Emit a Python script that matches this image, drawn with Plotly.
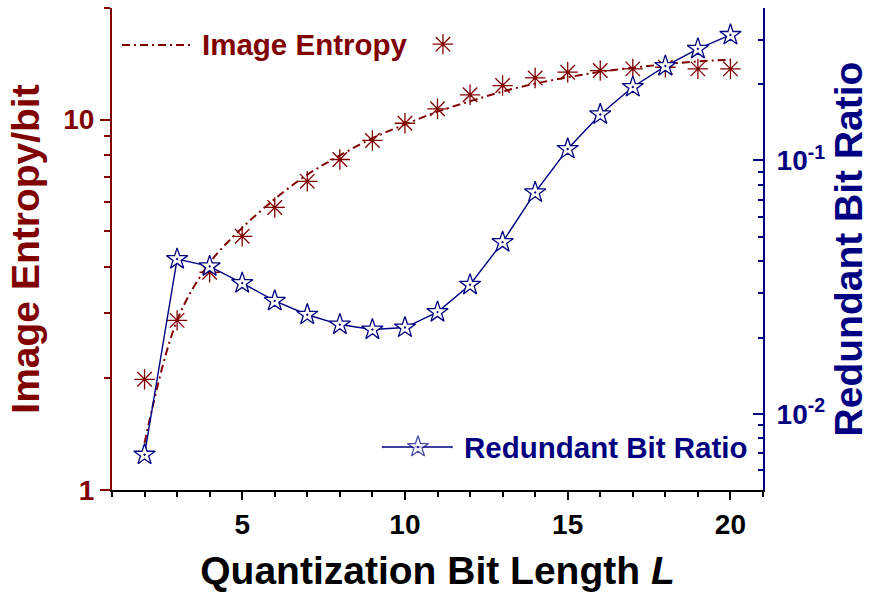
import plotly.graph_objects as go

# ---------------- data ----------------
bit_length = [2, 3, 4, 5, 6, 7, 8, 9, 10, 11, 12, 13, 14, 15, 16, 17, 18, 19, 20]
image_entropy = [1.99, 2.87, 3.87, 4.84, 5.79, 6.81, 7.80, 8.78, 9.77, 10.69,
                 11.66, 12.35, 12.95, 13.42, 13.56, 13.70, 13.84, 13.70, 13.70]
entropy_fit = [1.34, 2.87, 4.10, 5.10, 6.10, 7.10, 8.00, 8.90, 9.70, 10.50,
               11.20, 11.90, 12.50, 13.00, 13.45, 13.80, 14.10, 14.35, 14.50]
redundant_ratio = [0.00689, 0.0408, 0.0382, 0.0328, 0.0279, 0.0246, 0.0225, 0.0215,
                   0.0219, 0.0252, 0.0323, 0.0476, 0.0748, 0.111, 0.152, 0.195,
                   0.236, 0.276, 0.313]

x_major_ticks = [5, 10, 15, 20]
left_major_ticks = [1, 10]
left_major_text = ["1", "10"]
left_minor_ticks = [2, 3, 4, 5, 6, 7, 8, 9, 20]
right_major_ticks = [0.01, 0.1]
right_major_text = ["10<sup>-2</sup>", "10<sup>-1</sup>"]
right_minor_ticks = [0.005, 0.006, 0.007, 0.008, 0.009, 0.02, 0.03, 0.04, 0.05,
                     0.06, 0.07, 0.08, 0.09, 0.2, 0.3, 0.4]

# ---------------- style ----------------
RED = "#800000"
BLUE = "#000080"
FONT = "Liberation Sans"
DASHDOT = "8px,4px,2px,4px"

fig = go.Figure()

fig.add_trace(go.Scatter(
    x=bit_length, y=entropy_fit, mode="lines", line_shape="spline",
    line=dict(color=RED, width=2, dash=DASHDOT),
    xaxis="x", yaxis="y", showlegend=False, hoverinfo="skip"))

fig.add_trace(go.Scatter(
    x=bit_length, y=image_entropy, mode="markers",
    marker=dict(symbol="asterisk-open", size=17, color=RED,
                line=dict(color=RED, width=1.3)),
    xaxis="x", yaxis="y", showlegend=False))

fig.add_trace(go.Scatter(
    x=bit_length, y=redundant_ratio, mode="lines+markers",
    line=dict(color=BLUE, width=1.4),
    marker=dict(symbol="star-dot", size=16, color="white",
                line=dict(color=BLUE, width=1.3)),
    xaxis="x", yaxis="y2", showlegend=False))

# legend glyphs (legend layout, in plot-area fractions on a hidden helper axis pair)
fig.add_trace(go.Scatter(
    x=[0.5084], y=[0.925], mode="markers",
    marker=dict(symbol="asterisk-open", size=17, color=RED,
                line=dict(color=RED, width=1.3)),
    xaxis="x3", yaxis="y3", showlegend=False, hoverinfo="skip"))
fig.add_trace(go.Scatter(
    x=[0.416, 0.47, 0.522], y=[0.0892, 0.0892, 0.0892], mode="lines+markers",
    line=dict(color=BLUE, width=1.4),
    marker=dict(symbol="star-dot", size=[0, 16, 0], color="white",
                line=dict(color=BLUE, width=1.3)),
    xaxis="x3", yaxis="y3", showlegend=False, hoverinfo="skip"))

fig.add_shape(type="line", xref="paper", yref="paper",
              x0=0.0154, x1=0.1198, y0=0.923, y1=0.923,
              line=dict(color=RED, width=2, dash=DASHDOT))

fig.add_annotation(text="Image Entropy", xref="paper", yref="paper",
                   x=0.135, y=0.925, xanchor="left", yanchor="middle", showarrow=False,
                   font=dict(family=FONT, size=29.5, color=RED, weight="bold"))
fig.add_annotation(text="Redundant Bit Ratio", xref="paper", yref="paper",
                   x=0.5376, y=0.0892, xanchor="left", yanchor="middle", showarrow=False,
                   font=dict(family=FONT, size=29.5, color=BLUE, weight="bold"))

fig.update_layout(
    width=871, height=592,
    margin=dict(l=112, r=108, t=8, b=102, autoexpand=False),
    paper_bgcolor="white", plot_bgcolor="white",
    font=dict(family=FONT),
    xaxis=dict(
        range=[1, 21], tickvals=x_major_ticks, ticks="outside", ticklen=8, tickwidth=1.5,
        tickcolor="black", showline=True, linecolor="black", linewidth=2,
        showgrid=False, zeroline=False, automargin=False,
        tickfont=dict(family=FONT, size=28, color="black", weight="bold"),
        minor=dict(dtick=1, ticks="outside", ticklen=5, tickwidth=1.5, tickcolor="black",
                   showgrid=False),
        title=dict(text="Quantization Bit Length <i>L</i>", standoff=19,
                   font=dict(family=FONT, size=39, color="black", weight="bold")),
    ),
    xaxis2=dict(
        range=[1, 21], overlaying="x", side="top", anchor="y", automargin=False,
        tickvals=x_major_ticks, ticks="inside", ticklen=9, tickwidth=1.5, tickcolor="black",
        showticklabels=False, showline=True, linecolor="black", linewidth=2,
        showgrid=False, zeroline=False,
        minor=dict(dtick=1, ticks="inside", ticklen=5, tickwidth=1.5, tickcolor="black",
                   showgrid=False),
    ),
    yaxis=dict(
        type="log", range=[0, 1.30103], tickvals=left_major_ticks, ticktext=left_major_text,
        ticks="outside", ticklen=10, tickwidth=1.5, tickcolor=RED, automargin=False,
        showline=True, linecolor=RED, linewidth=2, showgrid=False, zeroline=False,
        tickfont=dict(family=FONT, size=28, color=RED, weight="bold"),
        minor=dict(tickvals=left_minor_ticks, ticks="outside", ticklen=6, tickwidth=1.5,
                   tickcolor=RED, showgrid=False),
        title=dict(text="Image Entropy/bit", standoff=12,
                   font=dict(family=FONT, size=39, color=RED, weight="bold")),
    ),
    yaxis2=dict(
        type="log", range=[-2.30103, -0.39794], overlaying="y", side="right", anchor="x",
        tickvals=right_major_ticks, ticktext=right_major_text, automargin=False,
        ticks="inside", ticklen=10, tickwidth=1.5, tickcolor=BLUE,
        showline=True, linecolor=BLUE, linewidth=2, showgrid=False, zeroline=False,
        tickfont=dict(family=FONT, size=28, color=BLUE, weight="bold"),
        ticklabelstandoff=6,
        minor=dict(tickvals=right_minor_ticks, ticks="inside", ticklen=5, tickwidth=1.5,
                   tickcolor=BLUE, showgrid=False),
        title=dict(text="Redundant Bit Ratio", standoff=10,
                   font=dict(family=FONT, size=39, color=BLUE, weight="bold")),
    ),
    xaxis3=dict(range=[0, 1], overlaying="x", anchor="y3", visible=False, fixedrange=True),
    yaxis3=dict(range=[0, 1], overlaying="y", anchor="x3", visible=False, fixedrange=True),
    showlegend=False,
)

fig.write_html("out.html")
